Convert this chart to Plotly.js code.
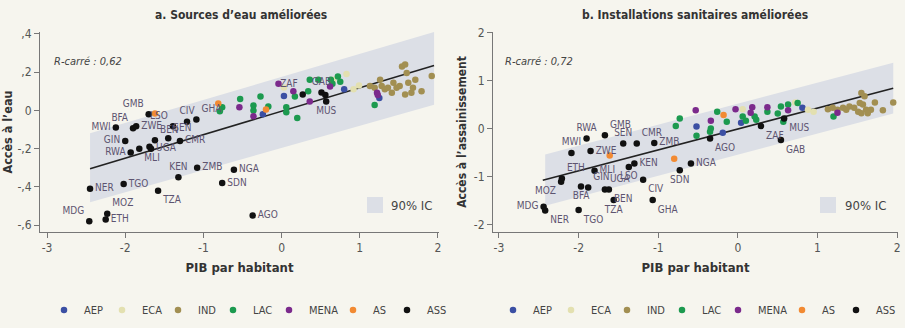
<!DOCTYPE html>
<html><head><meta charset="utf-8">
<script src="https://cdn.plot.ly/plotly-3.0.1.min.js"></script>
<style>html,body{margin:0;padding:0;background:#f6f5ee;}#chart{width:905px;height:328px;}</style>
</head><body><div id="chart"></div>
<script>
// ---------- data: panel a (water) ----------
const regions = ["AEP","ECA","IND","LAC","MENA","AS","ASS"];
const waterBandX = [-2.45, 1.95];
const waterBandLow = [-0.48, 0.03];
const waterBandHigh = [-0.12, 0.41];
const waterLineX = [-2.45, 1.95];
const waterLineY = [-0.305, 0.235];

const waterAEPx = [0.03, -0.24, 0.80, 1.25];
const waterAEPy = [0.075, -0.02, 0.11, 0.065];
const waterECAx = [0.03, 0.66, 0.83, 0.92, 0.99];
const waterECAy = [0.12, 0.16, 0.19, 0.11, 0.13];
const waterINDx = [1.13,1.19,1.26,1.28,1.32,1.36,1.43,1.47,1.51,1.54,1.58,1.60,1.62,1.66,1.68,1.71,1.79,1.92,1.41,1.58];
const waterINDy = [0.127,0.118,0.16,0.127,0.11,0.118,0.144,0.118,0.127,0.23,0.24,0.196,0.144,0.092,0.118,0.16,0.10,0.18,0.092,0.083];
const waterLACx = [-0.76,-0.79,-0.53,-0.27,-0.36,-0.36,-0.17,0.06,0.06,0.20,0.17,0.36,0.34,0.47,0.63,0.65,0.72,0.75,1.19];
const waterLACy = [0.016,-0.005,0.06,0.073,0.026,0.0,0.02,0.016,-0.01,-0.04,0.073,0.16,0.10,0.16,0.16,0.14,0.177,0.15,0.028];
const waterMENAx = [-0.54,-0.36,-0.04,0.15,0.36,0.62,1.22,1.23];
const waterMENAy = [0.016,-0.03,0.14,0.10,0.047,0.125,0.092,0.08];
const waterASx = [-1.62,-0.81,-0.20];
const waterASy = [-0.016,0.036,0.005];
const waterASSx = [-1.70,-2.12,-1.90,-1.86,-1.39,-1.21,-1.09,-1.62,-1.45,-1.30,-2.00,-1.93,-1.82,-1.69,-1.67,-1.32,-1.08,-0.61,-2.45,-2.02,-1.58,-0.76,-2.46,-2.23,-2.25,-0.37,0.27,0.51,0.56,0.57];
const waterASSy = [-0.02,-0.09,-0.094,-0.083,-0.083,-0.06,-0.047,-0.156,-0.146,-0.16,-0.16,-0.22,-0.20,-0.19,-0.20,-0.35,-0.30,-0.31,-0.41,-0.385,-0.42,-0.38,-0.58,-0.54,-0.57,-0.55,0.083,0.094,0.08,0.047];
const waterASSlabels = ["GMB","MWI","BFA","ZWE","LSO","CIV","GHA","BEN","SEN","CMR","GIN","RWA","MLI","","UGA","KEN","ZMB","NGA","NER","TGO","TZA","SDN","MDG","MOZ","ETH","AGO","ZAF","GAB","","MUS"];

// ---------- data: panel b (sanitation) ----------
const sanBandX = [-2.42, 1.95];
const sanBandLow = [-1.60, 0.32];
const sanBandHigh = [-0.53, 1.38];
const sanLineX = [-2.45, 1.95];
const sanLineY = [-1.07, 0.85];

const sanAEPx = [-0.52,-0.19,0.04,0.81];
const sanAEPy = [0.05,-0.08,0.13,0.44];
const sanECAx = [0.06,0.72,0.88,0.95];
const sanECAy = [0.41,0.55,0.40,0.36];
const sanINDx = [1.13,1.19,1.25,1.32,1.36,1.40,1.46,1.51,1.53,1.57,1.59,1.61,1.67,1.72,1.82,1.95,1.55,1.63,1.55];
const sanINDy = [0.41,0.44,0.40,0.44,0.40,0.47,0.44,0.36,0.54,0.51,0.68,0.40,0.40,0.55,0.39,0.55,0.33,0.33,0.75];
const sanLACx = [-0.73,-0.78,-0.52,-0.34,-0.35,-0.26,-0.14,0.06,0.10,0.21,0.23,0.37,0.50,0.54,0.63,0.75,0.57,1.20];
const sanLACy = [0.22,0.06,-0.14,0.01,-0.06,0.36,0.15,0.26,0.17,0.26,0.19,0.36,0.32,0.47,0.51,0.54,0.15,0.26];
const sanMENAx = [-0.53,-0.34,-0.03,0.18,0.16,0.37,0.63,1.25];
const sanMENAy = [0.39,0.17,0.41,0.45,0.34,0.45,0.39,0.34];
const sanASx = [-1.61,-0.80,-0.18];
const sanASy = [-0.55,-0.62,0.29];
const sanASSx = [-1.90,-1.67,-2.09,-1.85,-1.44,-1.27,-1.05,-0.35,0.29,0.58,0.54,-1.30,-1.37,-1.80,-2.21,-2.22,-1.88,-1.67,-1.62,-1.97,-1.19,-1.56,-1.07,-2.44,-2.42,-2.00,-0.59,-0.73];
const sanASSy = [-0.20,-0.13,-0.50,-0.46,-0.30,-0.30,-0.29,-0.20,0.06,0.22,-0.23,-0.72,-0.79,-0.87,-1.03,-1.10,-1.22,-1.26,-1.26,-1.20,-1.06,-1.48,-1.48,-1.62,-1.70,-1.69,-0.72,-0.86];
const sanASSlabels = ["RWA","GMB","MWI","ZWE","SEN","CMR","ZMB","AGO","ZAF","MUS","GAB","KEN","LSO","MLI","ETH","MOZ","GIN","UGA","BEN","BFA","CIV","TZA","GHA","MDG","NER","TGO","NGA","SDN"];

// ---------- label placement & legend spacing (style, not data) ----------
const waterLabelPos = ["top left","middle left","top left","middle right","top left","top center","top right","top right","top right","middle right","middle left","middle left","bottom right","middle right","middle right","top center","middle right","middle right","middle right","middle right","bottom right","middle right","top left","top right","middle right","middle right","top left","top center","middle right","bottom center"];
const sanLabelPos = ["top center","top right","top center","middle right","top center","top right","middle right","bottom right","bottom right","bottom right","bottom right","middle right","bottom center","middle right","top right","bottom left","top right","top right","bottom right","bottom center","bottom right","bottom center","bottom right","middle left","bottom right","bottom right","middle right","bottom center"];
const legendWidths = {AEP:13, ECA:11, IND:10, LAC:11, MENA:19, AS:9, ASS:20};

const colors = {AEP:"#3b4fa3",ECA:"#e3e0b0",IND:"#a28f52",LAC:"#1c9a4f",MENA:"#7b2a8c",AS:"#f28a32",ASS:"#111111"};
const FONT = "Liberation Sans Narrow, DejaVu Sans Condensed, Arial Narrow, sans-serif";
const labelColor = "#5d5470";

const panels = [
  {x:"x", y:"y", legend:"legend", bandX:waterBandX, low:waterBandLow, high:waterBandHigh, lineX:waterLineX, lineY:waterLineY,
   pts:{AEP:[waterAEPx,waterAEPy],ECA:[waterECAx,waterECAy],IND:[waterINDx,waterINDy],LAC:[waterLACx,waterLACy],MENA:[waterMENAx,waterMENAy],AS:[waterASx,waterASy],ASS:[waterASSx,waterASSy]},
   labels:waterASSlabels, pos:waterLabelPos},
  {x:"x2", y:"y2", legend:"legend2", bandX:sanBandX, low:sanBandLow, high:sanBandHigh, lineX:sanLineX, lineY:sanLineY,
   pts:{AEP:[sanAEPx,sanAEPy],ECA:[sanECAx,sanECAy],IND:[sanINDx,sanINDy],LAC:[sanLACx,sanLACy],MENA:[sanMENAx,sanMENAy],AS:[sanASx,sanASy],ASS:[sanASSx,sanASSy]},
   labels:sanASSlabels, pos:sanLabelPos}
];

const traces = [];
panels.forEach(p => {
  traces.push({type:"scatter", mode:"lines", xaxis:p.x, yaxis:p.y, showlegend:false, hoverinfo:"skip",
    x: p.bandX.concat(p.bandX.slice().reverse()),
    y: p.high.concat(p.low.slice().reverse()),
    fill:"toself", fillcolor:"#dcdfe6", line:{width:0, color:"rgba(0,0,0,0)"}});
  traces.push({type:"scatter", mode:"lines", xaxis:p.x, yaxis:p.y, showlegend:false,
    x:p.lineX, y:p.lineY, line:{color:"#222", width:1.6}});
  regions.forEach(r => {
    const t = {type:"scatter", name:r, xaxis:p.x, yaxis:p.y, legend:p.legend, legendwidth:legendWidths[r],
      x:p.pts[r][0], y:p.pts[r][1], mode:"markers",
      marker:{color:colors[r], size:6.5, line:{width:0}}};
    if (r === "ASS") {
      t.mode = "markers+text";
      t.text = p.labels;
      t.textposition = p.pos;
      t.textfont = {family:FONT, size:10, color:labelColor};
    }
    traces.push(t);
  });
});

const W = 905, H = 328;
const px = v => v / W, py = v => 1 - v / H;
const axisCommon = {showgrid:false, zeroline:false, showline:true, linecolor:"#777", linewidth:1,
  ticks:"outside", ticklen:5, tickcolor:"#777", tickfont:{family:FONT, size:12, color:"#555"}};

const layout = {
  width:W, height:H, margin:{l:0,r:0,t:0,b:0},
  paper_bgcolor:"#f6f5ee", plot_bgcolor:"#f6f5ee",
  font:{family:FONT},
  showlegend:true,
  xaxis: Object.assign({}, axisCommon, {domain:[px(40), px(439)], range:[-3.09, 2.013], tickvals:[-3,-2,-1,0,1,2], ticktext:["-3","-2","-1","0","1","2"],
    title:{text:"<b>PIB par habitant</b>", font:{family:FONT, size:13, color:"#333"}, standoff:8}, anchor:"y"}),
  yaxis: Object.assign({}, axisCommon, {domain:[py(232), py(32)], range:[-0.636, 0.41], tickvals:[0.4,0.2,0,-0.2,-0.4,-0.6], ticktext:[",4",",2","0","-,2","-,4","-,6"],
    title:{text:"<b>Accès à l’eau</b>", font:{family:FONT, size:12.5, color:"#333"}, standoff:4}, anchor:"x"}),
  xaxis2: Object.assign({}, axisCommon, {domain:[px(493), px(898)], range:[-3.075, 2.01], tickvals:[-3,-2,-1,0,1,2], ticktext:["-3","-2","-1","0","1","2"],
    title:{text:"<b>PIB par habitant</b>", font:{family:FONT, size:13, color:"#333"}, standoff:8}, anchor:"y2"}),
  yaxis2: Object.assign({}, axisCommon, {domain:[py(232), py(32)], range:[-2.146, 2.02], tickvals:[2,1,0,-1,-2], ticktext:["2","1","0","-1","-2"],
    title:{text:"<b>Accès à l’assainissement</b>", font:{family:FONT, size:12, color:"#333"}, standoff:4}, anchor:"x2"}),
  legend:{orientation:"h", x:px(44), xanchor:"left", y:py(310), yanchor:"middle", bgcolor:"rgba(0,0,0,0)",
    font:{family:FONT, size:11, color:"#444"}, itemwidth:30, tracegroupgap:0},
  legend2:{orientation:"h", x:px(493), xanchor:"left", y:py(310), yanchor:"middle", bgcolor:"rgba(0,0,0,0)",
    font:{family:FONT, size:11, color:"#444"}, itemwidth:30, tracegroupgap:0},
  shapes:[
    {type:"rect", xref:"paper", yref:"paper", x0:px(367), x1:px(383), y0:py(213), y1:py(197), fillcolor:"#dcdfe6", line:{width:0}},
    {type:"rect", xref:"paper", yref:"paper", x0:px(820), x1:px(836), y0:py(213), y1:py(197), fillcolor:"#dcdfe6", line:{width:0}}
  ],
  annotations:[
    {text:"<b>a. Sources d’eau améliorées</b>", xref:"paper", yref:"paper", x:px(241), y:py(15), xanchor:"center", yanchor:"middle", showarrow:false, font:{family:FONT, size:12, color:"#333"}},
    {text:"<b>b. Installations sanitaires améliorées</b>", xref:"paper", yref:"paper", x:px(695), y:py(15), xanchor:"center", yanchor:"middle", showarrow:false, font:{family:FONT, size:12, color:"#333"}},
    {text:"<i>R-carré : 0,62</i>", xref:"paper", yref:"paper", x:px(52), y:py(61), xanchor:"left", yanchor:"middle", showarrow:false, font:{family:FONT, size:11, color:"#444"}},
    {text:"<i>R-carré : 0,72</i>", xref:"paper", yref:"paper", x:px(503), y:py(62), xanchor:"left", yanchor:"middle", showarrow:false, font:{family:FONT, size:11, color:"#444"}},
    {text:"90% IC", xref:"paper", yref:"paper", x:px(389), y:py(205), xanchor:"left", yanchor:"middle", showarrow:false, font:{family:FONT, size:13, color:"#444"}},
    {text:"90% IC", xref:"paper", yref:"paper", x:px(843), y:py(205), xanchor:"left", yanchor:"middle", showarrow:false, font:{family:FONT, size:13, color:"#444"}}
  ]
};

Plotly.newPlot("chart", traces, layout, {displayModeBar:false, staticPlot:true});
</script></body></html>
